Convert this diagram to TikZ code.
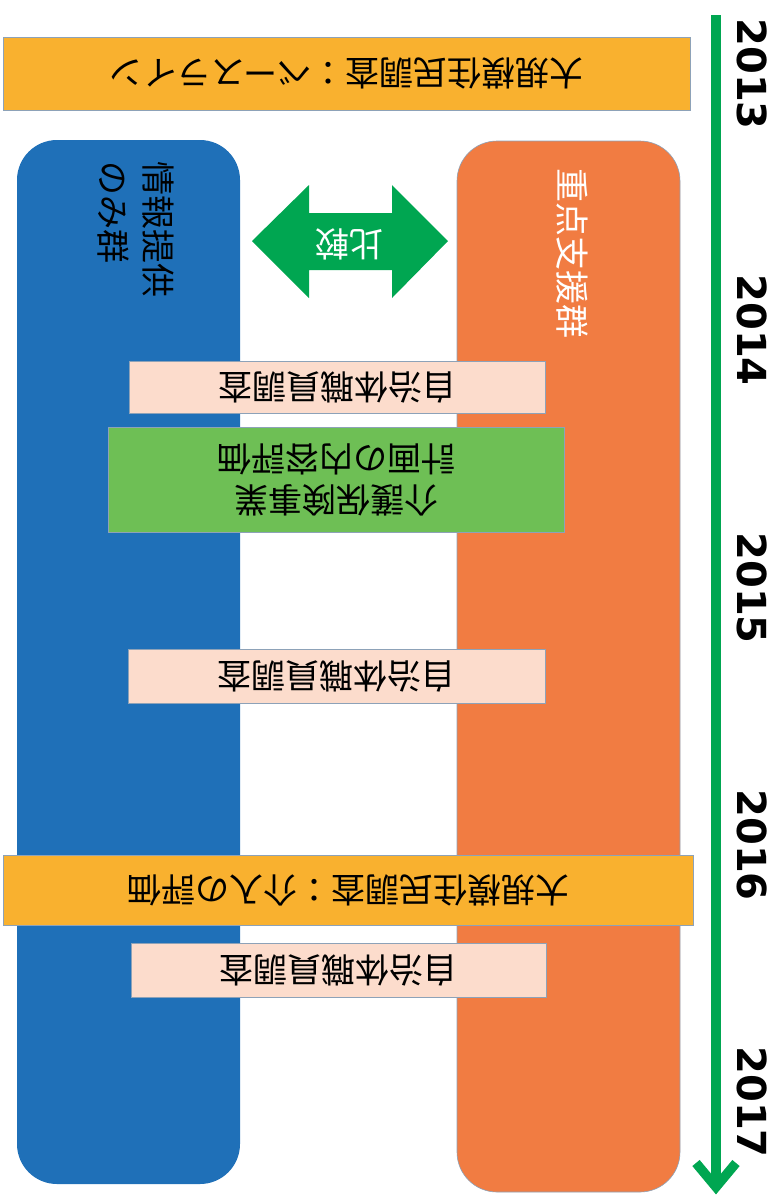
\documentclass[tikz,border=0pt]{standalone}
\usepackage{fontspec}
\newfontfamily\jpfont{Noto Sans CJK JP}
\newfontfamily\yearfont{DejaVu Sans}
\definecolor{grpblue}{HTML}{1F70B8}
\definecolor{grporange}{HTML}{F17C42}
\definecolor{arrgreen}{HTML}{00A651}
\definecolor{bandorange}{HTML}{F9B12F}
\definecolor{pinkbox}{HTML}{FCDCCC}
\definecolor{greenbox}{HTML}{6EBF55}
\definecolor{edgegray}{HTML}{8DA2B8}
\begin{document}
\begin{tikzpicture}[x=1pt,y=-1pt,
  jp/.style={font=\jpfont\fontsize{34}{41}\selectfont},
  group/.style={rounded corners=40pt, inner sep=0pt, minimum width=223pt},
  band/.style={jp, draw=edgegray, line width=0.8pt, fill=bandorange, inner sep=0pt, rotate=180},
  survey/.style={jp, draw=edgegray, line width=0.8pt, fill=pinkbox, inner sep=0pt, rotate=180},
  evalbox/.style={jp, draw=edgegray, line width=0.8pt, fill=greenbox, inner sep=0pt, rotate=180, align=center},
  year/.style={font=\yearfont\bfseries\fontsize{40}{48}\selectfont, rotate=-90, inner sep=0pt},
  timeline/.style={draw=arrgreen, line width=9.5pt}
]
\useasboundingbox (0,0) rectangle (782,1195);

% groups
\node[group, fill=grpblue, minimum height=1044pt] (blue) at (128.5,662) {};
\node[group, fill=grporange, draw=edgegray, line width=0.6pt, minimum height=1051pt] (orange) at (568.5,666.5) {};
\node[jp, rotate=-90, align=left, anchor=north west, inner sep=0pt,
      font=\jpfont\fontsize{34}{45}\selectfont] (lblblue) at (174,161) {情報提供\\のみ群};
\node[jp, text=white, rotate=-90] (lblorange) at (572,253) {重点支援群};

% comparison double arrow
\fill[arrgreen] (252,241) -- (309,185) -- (309,213) -- (392,213) -- (392,185)
  -- (448,241) -- (392,298) -- (392,270) -- (309,270) -- (309,298) -- cycle;
\node[jp, text=white, rotate=180] (cmp) at (349,244) {比較};

% bands and boxes
\node[band, minimum width=687pt, minimum height=73pt] (base) at (346.5,73.5) {大規模住民調査：ベースライン};
\node[survey, minimum width=416pt, minimum height=52pt] (s1) at (337,387.5) {自治体職員調査};
\node[evalbox, minimum width=456pt, minimum height=105pt] (plan) at (336,479.5) {介護保険事業\\計画の内容評価};
\node[survey, minimum width=417pt, minimum height=54pt] (s2) at (336.5,676) {自治体職員調査};
\node[band, minimum width=690pt, minimum height=70pt] (interv) at (348,890) {大規模住民調査：介入の評価};
\node[survey, minimum width=415pt, minimum height=54pt] (s3) at (338.5,970) {自治体職員調査};

% timeline
\coordinate (tltop) at (716,15);
\coordinate (tlend) at (716,1187);
\coordinate (barbl) at (696,1163);
\coordinate (barbr) at (736,1163);
\draw[timeline] (tltop) -- (tlend);
\draw[timeline, line join=miter] (barbl) -- (tlend) -- (barbr);

\node[year] (y2013) at (752,74) {2013};
\node[year] (y2014) at (752,330) {2014};
\node[year] (y2015) at (752,588) {2015};
\node[year] (y2016) at (752,845) {2016};
\node[year] (y2017) at (752,1102) {2017};
\end{tikzpicture}
\end{document}
